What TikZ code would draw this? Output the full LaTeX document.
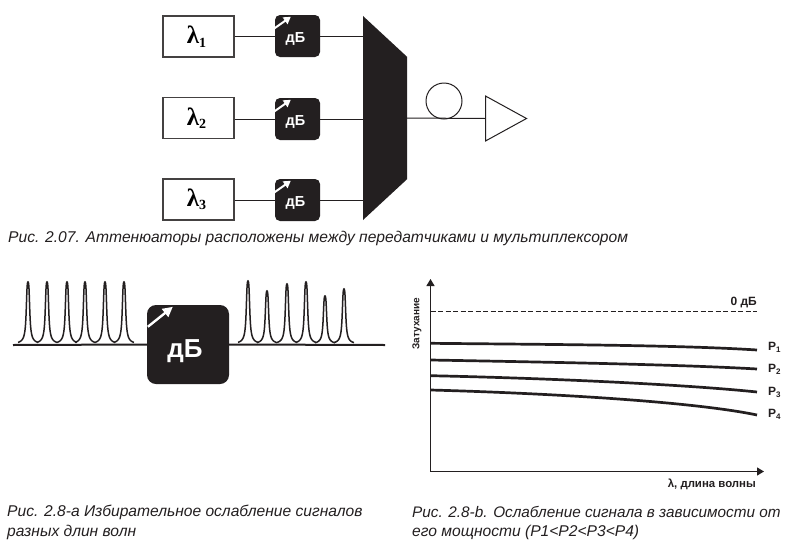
\documentclass[tikz,border=0pt]{standalone}
\usepackage{fontspec}
\setmainfont{Liberation Sans}
\newfontfamily\lamfont{Liberation Serif}
\usetikzlibrary{shapes.geometric,arrows.meta}
\definecolor{ink}{HTML}{231F20}
\tikzset{
  x=1pt,y=-1pt,
  wire/.style={draw=ink,line width=1pt},
  srcbox/.style={draw=ink!85,line width=1.2pt,fill=white,minimum width=71pt,minimum height=41pt,inner sep=0pt,font=\lamfont\bfseries\fontsize{25}{26}\selectfont},
  attbox/.style={fill=ink,rounded corners=5pt,minimum width=45pt,minimum height=42pt,inner sep=0pt,text=white,font=\bfseries\fontsize{14.5}{16}\selectfont},
  bigatt/.style={fill=ink,rounded corners=9pt,minimum width=82pt,minimum height=79pt,inner sep=0pt,text=white,font=\bfseries\fontsize{26}{28}\selectfont},
  knob/.style={draw=white,line width=2pt,-{Triangle[fill=white,length=7pt,width=8pt]}},
  caption/.style={font=\itshape\fontsize{15.6}{18}\selectfont,anchor=west,inner sep=0pt,text=ink},
  chartlab/.style={font=\bfseries\fontsize{11.4}{13}\selectfont,inner sep=0pt,text=ink},
  plab/.style={font=\bfseries\fontsize{12}{13}\selectfont,inner sep=0pt,text=ink,anchor=west},
  curve/.style={draw=ink,line width=2.7pt},
  peak/.style={draw=ink,line width=1.5pt},
  axisline/.style={draw=ink,line width=1.2pt,-{Triangle[length=7pt,width=8pt]}}
}
\newcommand{\peakat}[3]{\draw[peak,domain=-10:10,samples=61,smooth] plot ({#1+\x},{#2-1-(#2-1-#3)*(0.65/(1+(\x/1.7)*(\x/1.7)*(\x/1.7)*(\x/1.7))+0.35/(1+(\x/2.8)*(\x/2.8)))});}
\newcommand{\lam}[1]{λ\raisebox{-0.3ex}{\fontsize{14}{15}\selectfont #1}\kern4pt}
\newcommand{\psub}[1]{P\raisebox{-0.3ex}{\fontsize{8}{9}\selectfont #1}}
\newcommand{\smalldb}{\raisebox{-2.2ex}{дБ}\kern4pt}
\begin{document}
\begin{tikzpicture}
\useasboundingbox[fill=white] (0,0) rectangle (785,552);
% transmitters
\node[srcbox] (s1) at (198.5,36.5) {\lam{1}};
\node[srcbox] (s2) at (198.5,118) {\lam{2}};
\node[srcbox] (s3) at (198.5,199.5) {\lam{3}};
% attenuators
\node[attbox] (a1) at (297.5,36) {\smalldb};
\node[attbox] (a2) at (297.5,119) {\smalldb};
\node[attbox] (a3) at (297.5,200) {\smalldb};
% multiplexer
\node[trapezium,fill=ink,inner sep=1pt,shape border rotate=270,trapezium angle=71.6,trapezium stretches=true,minimum width=204pt,minimum height=44pt] (mux) at (385,118) {};
% fibre and amplifier
\node[circle,draw=ink,line width=1pt,minimum size=36pt,inner sep=0pt] (fibre) at (444,101) {};
\node[isosceles triangle,isosceles triangle apex angle=57.5,isosceles triangle stretches=true,draw=ink,line width=1pt,fill=white,inner sep=1pt,minimum width=45pt,minimum height=41pt,anchor=lower side] (amp) at (485,118.5) {};
\foreach \i in {1,2,3}{
  \draw[wire] (s\i.east |- a\i.west) -- (a\i.west);
  \draw[wire] (a\i.east) -- (a\i.east -| mux.west);
  \draw[knob] ([shift={(-1,14)}]a\i.north west) -- ([shift={(16,2)}]a\i.north west);
}
\draw[wire] (mux.east) -- (amp.lower side);
\node[caption] (c1) at (8,238) {Рис. 2.07. Аттенюаторы расположены между передатчиками и мультиплексором};
% spectrum
\coordinate (l0) at (13,345);
\coordinate (r1) at (385,345);
\node[bigatt] (big) at (188,344.5) {\raisebox{-2.2ex}{дБ}\kern6pt};
\draw[draw=ink,line width=2pt] (l0) -- (big.west);
\draw[draw=ink,line width=2pt] (big.east) -- (r1);
\draw[knob,line width=2.4pt,-{Triangle[fill=white,length=10pt,width=10pt]}] ([shift={(1,22)}]big.north west) -- ([shift={(26,2)}]big.north west);
\foreach \p in {28,47,67,85,105,124}{\peakat{\p}{345}{282}}
\peakat{248}{345}{281}
\peakat{267}{345}{291}
\peakat{287}{345}{284}
\peakat{306}{345}{282}
\peakat{325}{345}{296}
\peakat{344}{345}{289}
% chart
\coordinate (o) at (430.5,471.5);
\coordinate (yt) at (430.5,279);
\coordinate (xt) at (764,471.5);
\draw[axisline] (o) -- (yt);
\draw[axisline] (o) -- (xt);
\draw[draw=ink,line width=0.8pt,dash pattern=on 5pt off 2.5pt] (o |- 0,311) -- (757,311);
\node[chartlab,font=\bfseries\fontsize{12}{13}\selectfont,anchor=east] (zero) at (757,303) {0 дБ};
\node[chartlab,font=\bfseries\fontsize{10}{11}\selectfont,rotate=90] (ya) at (417,323.5) {Затухание};
\node[chartlab,anchor=east] (xa) at (756,484) {λ, длина волны};
\draw[curve] (430.5,343.3) .. controls (550,344.5) and (680,345) .. (757,350);
\draw[curve] (430.5,360) .. controls (540,362) and (680,364.5) .. (757,369);
\draw[curve] (430.5,375.7) .. controls (540,378) and (680,384) .. (757,392);
\draw[curve] (430.5,390) .. controls (540,393) and (690,401) .. (757,415);
\node[plab] (p1) at (768,347) {\psub{1}};
\node[plab] (p2) at (768,369) {\psub{2}};
\node[plab] (p3) at (768,392) {\psub{3}};
\node[plab] (p4) at (768,414) {\psub{4}};
% captions
\node[caption] (c2) at (7,512) {Рис. 2.8-а Избирательное ослабление сигналов};
\node[caption] (c3) at (7,532) {разных длин волн};
\node[caption,font=\itshape\fontsize{15.3}{18}\selectfont] (c4) at (412,512) {Рис. 2.8-b. Ослабление сигнала в зависимости от};
\node[caption] (c5) at (412,532) {его мощности (P1<P2<P3<P4)};
\end{tikzpicture}
\end{document}
